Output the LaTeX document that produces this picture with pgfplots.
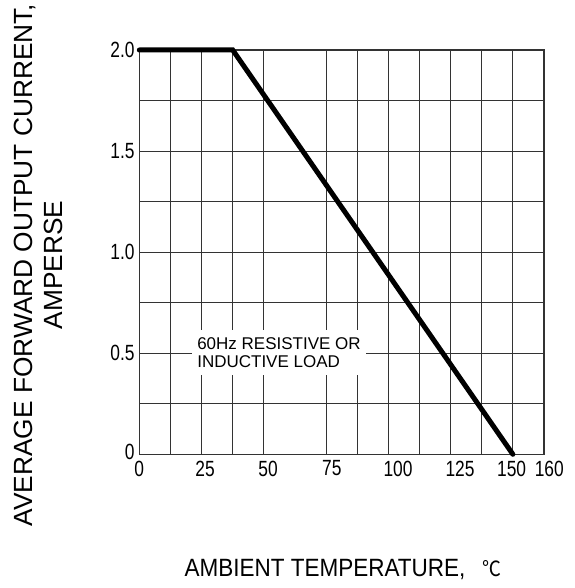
\documentclass[border=0pt]{standalone}
\usepackage{pgfplots}
\pgfplotsset{compat=1.18}
\usepackage{fontspec}
\setmainfont{Liberation Sans}
\newfontfamily\cjk{Noto Sans CJK SC}
\begin{document}
\begin{tikzpicture}
\path[use as bounding box] (-139.3pt,-133.7pt) rectangle (434.7pt,454.3pt);
\begin{axis}[
  at={(0,0)}, anchor=south west,
  scale only axis, width=404.7pt, height=404.3pt,
  xmin=0, xmax=162.5, ymin=0, ymax=2,
  axis line style={black!80, line width=1.1pt},
  xtick={0,26.4,51.7,77.3,103.9,128.8,149.5,162.4},
  xticklabels={0,25,50,75,100,125,150,\hspace*{14pt}160},
  ytick={0,0.5,1,1.5,2},
  yticklabels={\raisebox{4pt}{0},0.5,1.0,1.5,2.0},
  minor xtick={12.5,25,37.5,50,75,87.5,100,112.5,125,137.5,150},
  minor ytick={0.25,0.75,1.25,1.75},
  major tick length=0pt, minor tick length=0pt,
  xmajorgrids=false, ymajorgrids=true, xminorgrids=true, yminorgrids=true,
  grid style={black!80, line width=1.1pt},
  minor grid style={black!80, line width=1.1pt},
  ticklabel style={font=\fontsize{22}{24}\selectfont, xscale=0.79},
  yticklabel style={xshift=-2.5pt},
  xticklabel style={yshift=-3pt},
  xlabel={AMBIENT TEMPERATURE,\hspace{0.75em}{\cjk\fontsize{21}{24}\selectfont ℃}},
  xlabel style={at={(axis description cs:0.503,-0.284)}, anchor=center,
    font=\fontsize{25}{29}\selectfont, xscale=0.9},
  ylabel={AVERAGE FORWARD OUTPUT CURRENT,\\AMPERSE},
  ylabel style={at={(axis description cs:-0.249,0.468)}, anchor=center,
    align=center, font=\fontsize{26.3}{29.5}\selectfont},
  clip=false,
]
\addplot[black, line width=5pt, line cap=round, line join=miter] coordinates {(0,2) (37.5,2) (150,0)};
\node[fill=white, align=left, inner xsep=5pt, inner ysep=7pt,
  font=\fontsize{17}{18.3}\selectfont] at (axis cs:56.1,0.5036)
  {60Hz RESISTIVE OR\\INDUCTIVE LOAD};
\end{axis}
\end{tikzpicture}
\end{document}
